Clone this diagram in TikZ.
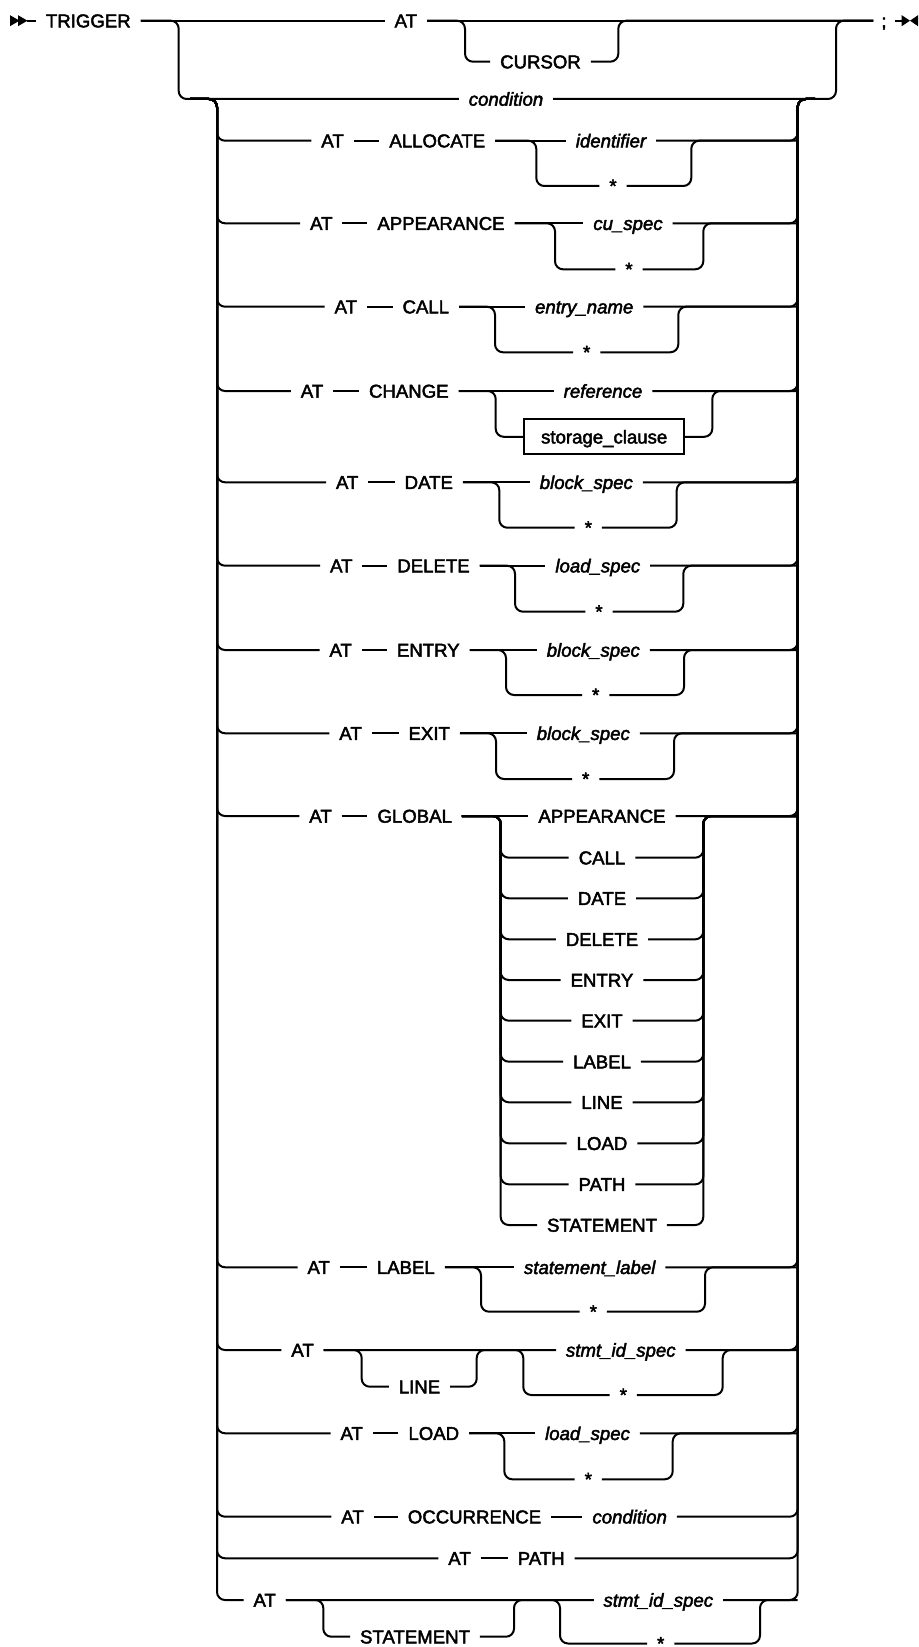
\documentclass[tikz,border=0pt]{standalone}
\usepackage{fontspec}
\setmainfont{Liberation Sans}[FakeBold=2.4]
\newcommand\optbr[4]{%
  \draw[rc] (#1.east) -| (#3L |- #2.west) -- (#2.west);
  \draw[rc] (#2.east) -| (#3R |- #1.east) -- (#4.west);}
\newcommand\chbr[4]{%
  \draw (#1.east) -- (#2.west);
  \draw[rc] (#1.east) -| (#4L |- #3.west) -- (#3.west);
  \draw[rc] (#3.east) -| (#4R |- #2.east) -- (RV |- #2.east);}
\newcommand\rstart[1]{\draw[rc] (jL) -- (LV) |- (#1.west);}
\newcommand\rend[1]{\draw[rc] (#1.east) -| (RV) -- (jR);}
\newcommand\starglyph{\raisebox{-3.2pt}{*}}
\begin{document}
\begin{tikzpicture}[x=0.5pt,y=-0.5pt,line width=1pt,
  rc/.style={rounded corners=4pt},
  kwd/.style={inner xsep=4.5pt,inner ysep=0pt,text height=6.66pt,text depth=0pt,
    font=\fontsize{9.3pt}{11pt}\selectfont},
  vard/.style={kwd,font=\fontsize{9.3pt}{11pt}\selectfont\itshape},
  stard/.style={kwd,text height=0pt},
  boxd/.style={kwd,draw,minimum width=80pt,minimum height=17.5pt,inner xsep=4pt}]
\fill[white] (0,0) rectangle (918,1647);
\useasboundingbox (0,0) rectangle (918,1647);
% junction coordinates
\coordinate (jL) at (190,99);
\coordinate (LV) at (217,99);
\coordinate (RV) at (797.7,99);
\coordinate (jR) at (815,99);
\coordinate (oL) at (178.7,0);
\coordinate (oR) at (836,0);
% top line
\coordinate (st) at (27,20.7);
\coordinate (en) at (901.7,20.7);
\fill (10,15.2) -- (10,26.2) -- (19.5,20.7) -- cycle;
\fill (18,15.2) -- (18,26.2) -- (27.5,20.7) -- cycle;
\fill (901.7,15.2) -- (901.7,26.2) -- (910,20.7) -- cycle;
\fill (918,15.2) -- (918,26.2) -- (910,20.7) -- cycle;
\node[kwd] (trig) at (88.3,20.7) {TRIGGER};
\node[kwd] (at0) at (405.8,20.7) {AT};
\node[kwd] (cur) at (540.5,61.7) {CURSOR};
\node[vard] (cond0) at (506,99) {condition};
\node[kwd,inner xsep=3.5pt] (semi) at (884,20.7) {;};
\coordinate (cL) at (465,0); \coordinate (cR) at (618.3,0);
\draw (st) -- (trig.west);
\draw (trig.east) -- (at0.west);
\draw (at0.east) -- (semi.west);
\draw (semi.east) -- (en);
\optbr{at0}{cur}{c}{semi}
\draw[rc] (trig.east) -| (oL |- cond0.west) -- (cond0.west);
\draw[rc] (cond0.east) -| (oR |- semi.west) -- (semi.west);
% row 1 ALLOCATE
\node[kwd] (a1) at (332.5,140.7) {AT};
\node[kwd] (k1) at (437.3,140.7) {ALLOCATE};
\node[vard] (t1) at (611,140.7) {identifier};
\node[stard] (b1) at (613,186) {\starglyph};
\coordinate (r1L) at (536.3,0); \coordinate (r1R) at (691.3,0);
\rstart{a1} \draw (a1.east) -- (k1.west); \chbr{k1}{t1}{b1}{r1} \rend{t1}
% row 2 APPEARANCE
\node[kwd] (a2) at (321.3,223.3) {AT};
\node[kwd] (k2) at (441,223.3) {APPEARANCE};
\node[vard] (t2) at (628,223.3) {cu\_spec};
\node[stard] (b2) at (629,269.3) {\starglyph};
\coordinate (r2L) at (555,0); \coordinate (r2R) at (703.3,0);
\rstart{a2} \draw (a2.east) -- (k2.west); \chbr{k2}{t2}{b2}{r2} \rend{t2}
% row 3 CALL
\node[kwd] (a3) at (345.8,306.7) {AT};
\node[kwd] (k3) at (425.8,306.7) {CALL};
\node[vard] (t3) at (584.2,306.7) {entry\_name};
\node[stard] (b3) at (586.7,352.3) {\starglyph};
\coordinate (r3L) at (495,0); \coordinate (r3R) at (678.3,0);
\rstart{a3} \draw (a3.east) -- (k3.west); \chbr{k3}{t3}{b3}{r3} \rend{t3}
% row 4 CHANGE
\node[kwd] (a4) at (312,391) {AT};
\node[kwd] (k4) at (408.8,391) {CHANGE};
\node[vard] (t4) at (603,391) {reference};
\node[boxd] (b4) at (604.2,436.8) {storage\_clause};
\coordinate (r4L) at (495.7,0); \coordinate (r4R) at (712.3,0);
\rstart{a4} \draw (a4.east) -- (k4.west); \chbr{k4}{t4}{b4}{r4} \rend{t4}
% row 5 DATE
\node[kwd] (a5) at (347.2,482.3) {AT};
\node[kwd] (k5) at (428.8,482.3) {DATE};
\node[vard] (t5) at (586.3,482.3) {block\_spec};
\node[stard] (b5) at (588.3,527.7) {\starglyph};
\coordinate (r5L) at (499.3,0); \coordinate (r5R) at (676.7,0);
\rstart{a5} \draw (a5.east) -- (k5.west); \chbr{k5}{t5}{b5}{r5} \rend{t5}
% row 6 DELETE
\node[kwd] (a6) at (341.3,565.7) {AT};
\node[kwd] (k6) at (433.5,565.7) {DELETE};
\node[vard] (t6) at (597.8,565.7) {load\_spec};
\node[stard] (b6) at (599,611.7) {\starglyph};
\coordinate (r6L) at (515,0); \coordinate (r6R) at (683.3,0);
\rstart{a6} \draw (a6.east) -- (k6.west); \chbr{k6}{t6}{b6}{r6} \rend{t6}
% row 7 ENTRY
\node[kwd] (a7) at (340.7,650) {AT};
\node[kwd] (k7) at (428.3,650) {ENTRY};
\node[vard] (t7) at (593.3,650) {block\_spec};
\node[stard] (b7) at (595.7,695) {\starglyph};
\coordinate (r7L) at (506,0); \coordinate (r7R) at (684,0);
\rstart{a7} \draw (a7.east) -- (k7.west); \chbr{k7}{t7}{b7}{r7} \rend{t7}
% row 8 EXIT
\node[kwd] (a8) at (350.5,733.3) {AT};
\node[kwd] (k8) at (429.2,733.3) {EXIT};
\node[vard] (t8) at (583.3,733.3) {block\_spec};
\node[stard] (b8) at (585.7,779) {\starglyph};
\coordinate (r8L) at (496,0); \coordinate (r8R) at (674,0);
\rstart{a8} \draw (a8.east) -- (k8.west); \chbr{k8}{t8}{b8}{r8} \rend{t8}
% row 9 GLOBAL
\node[kwd] (a9) at (320.5,816) {AT};
\node[kwd] (k9) at (414.7,816) {GLOBAL};
\coordinate (gL) at (500.7,0); \coordinate (gR) at (703.3,0);
\foreach \n/\yy/\s in {1/816/APPEARANCE,2/857.7/CALL,3/898.3/DATE,4/939.3/DELETE,
  5/980/ENTRY,6/1020.7/EXIT,7/1061.7/LABEL,8/1102.3/LINE,9/1143.3/LOAD,
  10/1184.3/PATH,11/1225/STATEMENT}
  {\node[kwd] (g\n) at (602,\yy) {\s};}
\rstart{a9} \draw (a9.east) -- (k9.west); \draw (k9.east) -- (g1.west);
\foreach \i in {2,...,11}{
  \draw[rc] (k9.east) -| (gL |- g\i.west) -- (g\i.west);
  \draw[rc] (g\i.east) -| (gR |- g1.east) -- (RV |- g1.east);}
\rend{g1}
% row 10 LABEL
\node[kwd] (a10) at (318.7,1267.3) {AT};
\node[kwd] (k10) at (405.8,1267.3) {LABEL};
\node[vard] (t10) at (589.7,1267.3) {statement\_label};
\node[stard] (b10) at (593.3,1311.7) {\starglyph};
\coordinate (r10L) at (481,0); \coordinate (r10R) at (705,0);
\rstart{a10} \draw (a10.east) -- (k10.west); \chbr{k10}{t10}{b10}{r10} \rend{t10}
% row 11 AT [LINE]
\node[kwd] (a11) at (302.5,1350) {AT};
\node[kwd] (l11) at (419.5,1386.7) {LINE};
\node[vard] (t11) at (620.8,1350) {stmt\_id\_spec};
\node[stard] (b11) at (623.3,1395) {\starglyph};
\coordinate (o11L) at (361.7,0); \coordinate (o11R) at (476.7,0);
\coordinate (r11L) at (523.3,0); \coordinate (r11R) at (722.7,0);
\rstart{a11} \optbr{a11}{l11}{o11}{t11} \chbr{a11}{t11}{b11}{r11} \rend{t11}
% row 12 LOAD
\node[kwd] (a12) at (351.7,1433.3) {AT};
\node[kwd] (k12) at (433.8,1433.3) {LOAD};
\node[vard] (t12) at (587.5,1433.3) {load\_spec};
\node[stard] (b12) at (588.3,1479.3) {\starglyph};
\coordinate (r12L) at (504.3,0); \coordinate (r12R) at (672.7,0);
\rstart{a12} \draw (a12.east) -- (k12.west); \chbr{k12}{t12}{b12}{r12} \rend{t12}
% row 13 OCCURRENCE
\node[kwd] (a13) at (352.5,1516.7) {AT};
\node[kwd] (k13) at (474.5,1516.7) {OCCURRENCE};
\node[vard] (t13) at (629.7,1516.7) {condition};
\rstart{a13} \draw (a13.east) -- (k13.west); \draw (k13.east) -- (t13.west); \rend{t13}
% row 14 PATH
\node[kwd] (a14) at (459.5,1558.3) {AT};
\node[kwd] (k14) at (541.2,1558.3) {PATH};
\rstart{a14} \draw (a14.east) -- (k14.west); \rend{k14}
% row 15 AT [STATEMENT]
\node[kwd] (a15) at (264.7,1600) {AT};
\node[kwd] (l15) at (415,1636.7) {STATEMENT};
\node[vard] (t15) at (658.3,1600) {stmt\_id\_spec};
\node[stard] (b15) at (660.7,1643.5) {\starglyph};
\coordinate (o15L) at (323.3,0); \coordinate (o15R) at (514,0);
\coordinate (r15L) at (560,0); \coordinate (r15R) at (760,0);
\rstart{a15} \optbr{a15}{l15}{o15}{t15} \chbr{a15}{t15}{b15}{r15} \rend{t15}
\end{tikzpicture}
\end{document}
